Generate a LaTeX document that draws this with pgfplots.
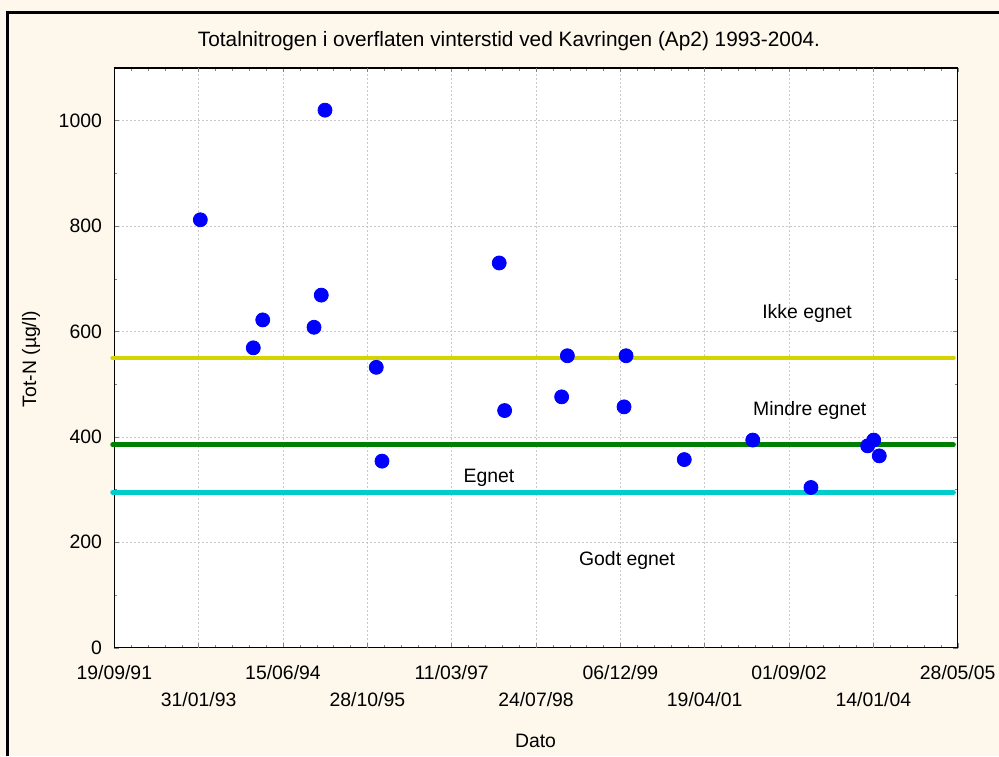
\documentclass[border=0pt]{standalone}
\usepackage{pgfplots}
\pgfplotsset{compat=1.18}
\usepackage{fontspec}
\setmainfont{Liberation Sans}

\definecolor{bgcream}{HTML}{FDF7EC}
\definecolor{lineyellow}{HTML}{D4D400}
\definecolor{linegreen}{HTML}{008000}
\definecolor{linecyan}{HTML}{00CCCC}
\definecolor{gridgray}{HTML}{C8C8C8}

% days counted from 19/09/91
\pgfplotstableread{
x      y
510    812
824    569
880    622
1184   608
1227   669
1249   1020
1553   532
1587   354
2282   730
2314   450
2652   476
2686   554
3022   457
3034   554
3379   357
3785   394
4130   304
4466   383
4502   394
4535   364
}\totn

\newcommand{\lbl}{\fontsize{9.7}{11.6}\selectfont}

\begin{document}
\begin{tikzpicture}
\path[use as bounding box] (0,0) rectangle (499.5pt,378pt);
\fill[bgcream] (0,0) rectangle (499.5pt,378pt);
\draw[line width=1.5pt] (3.5pt,0) -- (3.5pt,371.5pt) -- (499.5pt,371.5pt);

\begin{axis}[
  scale only axis,
  width=421.7pt, height=289.85pt,
  at={(57.15pt,54.15pt)}, anchor=south west,
  xmin=0, xmax=5000, ymin=0, ymax=1100,
  clip=false,
  axis background/.style={fill=white},
  axis line style={line width=0.6pt},
  xtick={0,1000,...,5000},
  xticklabels={19/09/91,15/06/94,11/03/97,06/12/99,01/09/02,28/05/05},
  extra x ticks={500,1500,2500,3500,4500},
  extra x tick labels={31/01/93,28/10/95,24/07/98,19/04/01,14/01/04},
  extra x tick style={grid=major, xticklabel style={yshift=-13.5pt}},
  minor xtick={0,100,...,5000},
  ytick={0,200,...,1000},
  minor y tick num=1,
  tick align=inside,
  major tick length=2.2pt, minor tick length=1.4pt,
  grid=major,
  major grid style={gridgray, dash pattern=on 1pt off 1pt, line width=0.4pt},
  tick label style={font=\lbl},
  /pgf/number format/assume math mode=true,
  /pgf/number format/1000 sep={},
  xticklabel style={anchor=base, inner sep=0pt, yshift=-15.65pt},
  yticklabel style={anchor=east, inner sep=0pt, xshift=-6pt},
]
\addplot[only marks, mark=*, mark size=3.5pt, color=blue] table[x=x, y=y] {\totn};
\addplot[lineyellow, line width=2.35pt, line cap=round] coordinates {(-10,550) (4975,550)};
\addplot[linegreen, line width=2.35pt, line cap=round] coordinates {(-10,385) (4975,385)};
\addplot[linecyan, line width=2.35pt, line cap=round] coordinates {(-10,295) (4975,295)};
\node[font=\lbl] at (axis cs:4107,635) {Ikke egnet};
\node[font=\lbl] at (axis cs:4123,451) {Mindre egnet};
\node[font=\lbl] at (axis cs:2221,322) {Egnet};
\node[font=\lbl] at (axis cs:3040,166) {Godt egnet};
\end{axis}

\node[font=\fontsize{10.4}{12.5}\selectfont] at (254.5pt,357.5pt) {Totalnitrogen i overflaten vinterstid ved Kavringen (Ap2) 1993-2004.};
\node[font=\lbl, anchor=base, inner sep=0pt] at (267.75pt,4.15pt) {Dato};
\node[font=\lbl, anchor=base, inner sep=0pt, rotate=90] at (18pt,198.5pt) {Tot-N (µg/l)};
\end{tikzpicture}
\end{document}
